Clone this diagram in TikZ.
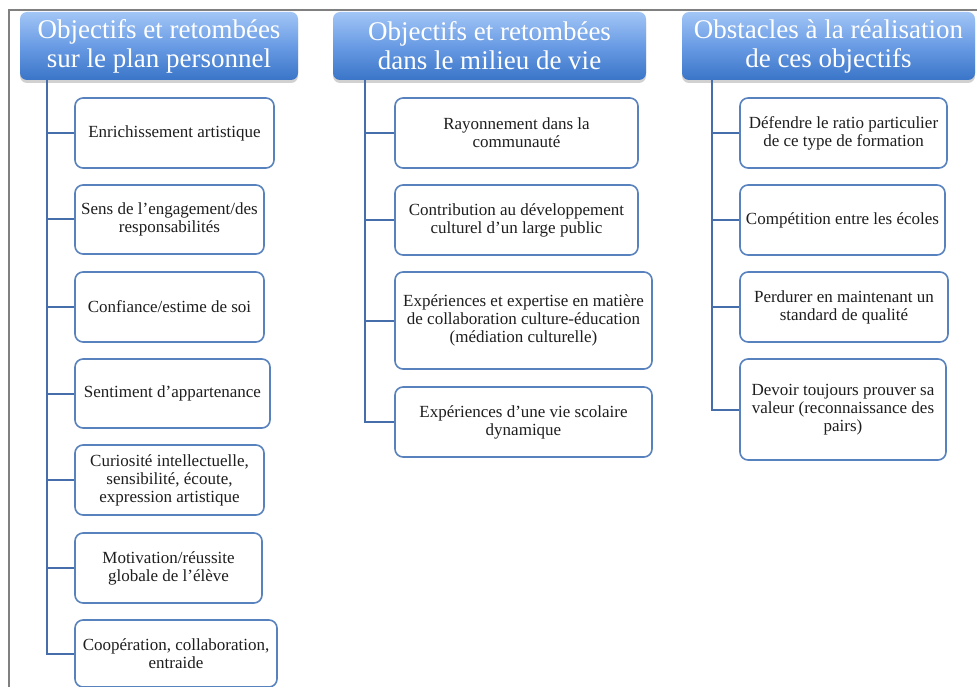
\documentclass[tikz,border=0pt]{standalone}
\usepackage{fontspec}
\setmainfont{Liberation Serif}
\usetikzlibrary{shadows}
\definecolor{framegray}{RGB}{128,128,128}
\definecolor{conncol}{RGB}{70,110,170}
\definecolor{boxline}{RGB}{88,130,190}
\definecolor{headtop}{RGB}{162,198,246}
\definecolor{headmid}{RGB}{105,155,228}
\definecolor{headbot}{RGB}{58,117,200}
\definecolor{boxtext}{RGB}{30,30,30}
\tikzset{
  header/.style={rounded corners=7pt, inner sep=0pt, align=center,
    top color=headtop, bottom color=headbot, middle color=headmid,
    text=white, font=\fontsize{27}{29}\selectfont,
    minimum height=68pt,
    drop shadow={shadow xshift=0pt, shadow yshift=-3pt, opacity=0.3, fill=black!60}},
  itembox/.style={draw=boxline, line width=1.6pt, rounded corners=8pt, fill=white,
    inner sep=0pt, align=center, text=boxtext,
    font=\fontsize{17}{18}\selectfont},
  conn/.style={draw=conncol, line width=2pt},
  framestyle/.style={draw=framegray, line width=1.5pt}
}
\begin{document}
\begin{tikzpicture}[x=1pt,y=-1pt]
\useasboundingbox (0,0) rectangle (977,687);
% frame
\coordinate (fbl) at (9,690);
\coordinate (ftl) at (9,10);
\coordinate (ftr) at (980,10);
\draw[framestyle] (fbl) -- (ftl) -- (ftr);

% headers
\node[header, minimum width=278pt] (h1) at (159,46) {Objectifs et retombées\\sur le plan personnel};
\node[header, minimum width=313pt] (h2) at (489.5,46) {Objectifs et retombées\\dans le milieu de vie};
\node[header, minimum width=293pt] (h3) at (828.5,46) {Obstacles à la réalisation\\de ces objectifs};

% column 1 boxes
\node[itembox, minimum width=199pt, minimum height=70pt] (a1) at (174.5,133) {Enrichissement artistique};
\node[itembox, minimum width=189pt, minimum height=69pt] (a2) at (169.5,219.5) {Sens de l’engagement/des\\responsabilités};
\node[itembox, minimum width=189pt, minimum height=70pt] (a3) at (169.5,307) {Confiance/estime de soi};
\node[itembox, minimum width=195pt, minimum height=69pt] (a4) at (172.5,393.5) {Sentiment d’appartenance};
\node[itembox, minimum width=189pt, minimum height=70pt] (a5) at (169.5,480) {Curiosité intellectuelle,\\sensibilité, écoute,\\expression artistique};
\node[itembox, minimum width=187pt, minimum height=70pt] (a6) at (168.5,568) {Motivation/réussite\\globale de l’élève};
\node[itembox, minimum width=202pt, minimum height=67pt] (a7) at (176,653.5) {Coopération, collaboration,\\entraide};

% column 2 boxes
\node[itembox, minimum width=243pt, minimum height=70pt] (b1) at (516.5,133) {Rayonnement dans la\\communauté};
\node[itembox, minimum width=243pt, minimum height=70pt] (b2) at (516.5,220) {Contribution au développement\\culturel d’un large public};
\node[itembox, minimum width=257pt, minimum height=97pt] (b3) at (523.5,320.5) {Expériences et expertise en matière\\de collaboration culture-éducation\\(médiation culturelle)};
\node[itembox, minimum width=257pt, minimum height=70pt] (b4) at (523.5,422) {Expériences d’une vie scolaire\\dynamique};

% column 3 boxes
\node[itembox, minimum width=207pt, minimum height=70pt] (c1) at (843.5,133) {Défendre le ratio particulier\\de ce type de formation};
\node[itembox, minimum width=205pt, minimum height=70pt] (c2) at (842.5,220) {Compétition entre les écoles};
\node[itembox, minimum width=208pt, minimum height=70pt] (c3) at (844,307) {Perdurer en maintenant un\\standard de qualité};
\node[itembox, minimum width=206pt, minimum height=101pt] (c4) at (843,409.5) {Devoir toujours prouver sa\\valeur (reconnaissance des\\pairs)};

% trunks
\coordinate (t1) at (47,80);
\coordinate (t2) at (365,80);
\coordinate (t3) at (712,80);

\begin{scope}[on background layer/.try]
\end{scope}
\draw[conn] (t1) |- (a7.west);
\foreach \n in {a1,a2,a3,a4,a5,a6} \draw[conn] (t1 |- \n.west) -- (\n.west);
\draw[conn] (t2) |- (b4.west);
\foreach \n in {b1,b2,b3} \draw[conn] (t2 |- \n.west) -- (\n.west);
\draw[conn] (t3) |- (c4.west);
\foreach \n in {c1,c2,c3} \draw[conn] (t3 |- \n.west) -- (\n.west);
\end{tikzpicture}
\end{document}
